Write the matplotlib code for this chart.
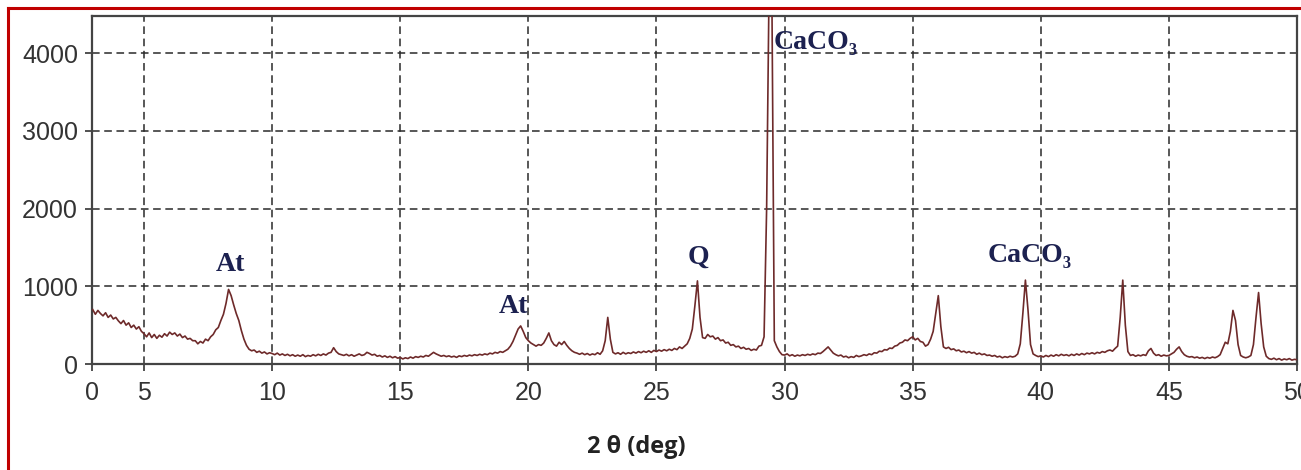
import numpy as np
import matplotlib
matplotlib.use("Agg")
import matplotlib.pyplot as plt
from matplotlib.lines import Line2D

# --------------- data (0.1 deg steps from 3.0 to 50.0) ---------------
scan_start = 3.0
scan_step = 0.1
counts = [
    700, 640, 690, 650, 620, 660, 600, 630, 580, 600,      # 3
    555, 520, 560, 500, 530, 470, 500, 450, 480, 420,      # 4
    390, 350, 400, 340, 380, 330, 370, 345, 390, 360,      # 5
    410, 380, 400, 360, 385, 340, 360, 320, 330, 300,      # 6
    300, 260, 290, 270, 320, 300, 350, 380, 440, 470,      # 7
    560, 640, 780, 960, 880, 760, 650, 560, 430, 320,      # 8
    240, 190, 170, 180, 150, 165, 140, 155, 130, 145,      # 9
    135, 120, 140, 115, 130, 110, 125, 105, 120, 100,      # 10
    115, 100, 120, 95, 110, 100, 120, 105, 125, 110,       # 11
    130, 115, 140, 150, 210, 160, 130, 120, 110, 125,      # 12
    105, 120, 100, 115, 130, 110, 120, 150, 135, 115,      # 13
    125, 100, 110, 90, 105, 85, 100, 80, 95, 75,           # 14
    85, 65, 80, 70, 90, 75, 95, 85, 100, 90,               # 15
    110, 100, 125, 150, 130, 115, 100, 110, 95, 105,       # 16
    90, 100, 85, 105, 95, 110, 100, 115, 105, 120,         # 17
    110, 125, 115, 130, 120, 140, 130, 150, 140, 160,      # 18
    150, 170, 190, 230, 290, 370, 450, 490, 420, 340,      # 19
    300, 270, 250, 230, 250, 240, 270, 330, 400, 300,      # 20
    250, 230, 280, 250, 290, 240, 200, 170, 150, 140,      # 21
    125, 140, 120, 135, 115, 130, 120, 145, 125, 170,      # 22
    300, 600, 320, 150, 130, 145, 125, 150, 130, 145,      # 23
    135, 155, 140, 160, 145, 165, 150, 170, 150, 175,      # 24
    160, 180, 165, 185, 170, 190, 175, 200, 185, 220,      # 25
    200, 230, 260, 330, 450, 750, 1070, 600, 340, 330,     # 26
    380, 350, 360, 320, 340, 300, 310, 270, 280, 240,      # 27
    250, 220, 230, 200, 215, 190, 200, 175, 190, 180,      # 28
    230, 240, 350, 2000, 5000, 5000, 300, 220, 160, 120,   # 29
    115, 130, 105, 120, 100, 115, 105, 120, 110, 125,      # 30
    115, 130, 120, 140, 135, 160, 190, 220, 180, 140,      # 31
    120, 105, 115, 90, 100, 80, 95, 85, 110, 95,           # 32
    105, 120, 110, 130, 120, 145, 140, 165, 160, 185,      # 33
    180, 205, 200, 230, 240, 270, 280, 310, 300, 330,      # 34
    350, 310, 330, 290, 280, 230, 250, 320, 420, 650,      # 35
    880, 480, 220, 200, 215, 185, 195, 170, 180, 155,      # 36
    165, 145, 160, 140, 150, 125, 140, 120, 130, 110,      # 37
    115, 100, 110, 90, 100, 80, 95, 85, 100, 90,           # 38
    100, 130, 260, 650, 1080, 700, 250, 130, 110, 95,      # 39
    105, 90, 110, 95, 115, 100, 120, 105, 125, 110,        # 40
    120, 105, 125, 110, 130, 115, 135, 120, 140, 130,      # 41
    145, 130, 150, 140, 160, 150, 170, 180, 165, 200,      # 42
    230, 600, 1080, 500, 160, 110, 120, 100, 115, 105,     # 43
    120, 110, 170, 200, 140, 110, 120, 100, 115, 105,      # 44
    110, 130, 150, 190, 220, 160, 120, 100, 90, 95,        # 45
    80, 90, 75, 85, 70, 85, 75, 90, 80, 95,                # 46
    120, 200, 280, 260, 420, 690, 560, 250, 110, 90,       # 47
    80, 90, 110, 250, 600, 920, 520, 220, 100, 70,         # 48
    60, 75, 55, 70, 50, 65, 55, 70, 50, 60,                # 49
    55,                                                    # 50
]
two_theta = scan_start + scan_step * np.arange(len(counts))

x_ticks = [2.97, 5, 10, 15, 20, 25, 30, 35, 40, 45, 50]
x_tick_labels = ["0", "5", "10", "15", "20", "25", "30", "35", "40", "45", "50"]
y_ticks = [0, 1000, 2000, 3000, 4000]

# peak labels: text, left/center anchor x, baseline y
peak_labels = ["At", "At", "Q", "CaCO₃", "CaCO₃"]
peak_x = [8.36, 19.4, 26.64, 29.57, 37.93]
peak_y = [1200, 660, 1290, 4050, 1310]
peak_ha = ["center", "center", "center", "left", "left"]

# --------------- plot ---------------
fig = plt.figure(figsize=(13.01, 4.70), dpi=100)
ax = fig.add_axes([92 / 1301, 1 - 364 / 470, (1297 - 92) / 1301, (364 - 16) / 470])

ax.plot(two_theta, counts, color="#6e2a2a", lw=1.2, zorder=3)

ax.set_xlim(2.97, 50.0)
ax.set_ylim(0, 4480)
ax.set_xticks(x_ticks)
ax.set_xticklabels(x_tick_labels)
ax.set_yticks(y_ticks)

ax.grid(True, color="#2a2a2a", lw=1.1, linestyle=(0, (5, 3)))
ax.tick_params(axis="both", direction="out", length=5, width=1.2,
               colors="#333333", labelsize=18)
ax.tick_params(axis="x", pad=7)
ax.tick_params(axis="y", pad=5)
for lab in ax.get_xticklabels() + ax.get_yticklabels():
    lab.set_fontfamily("Liberation Sans")
for sp in ax.spines.values():
    sp.set_color("#444444")
    sp.set_linewidth(1.6)

for txt, px, py, ha in zip(peak_labels, peak_x, peak_y, peak_ha):
    ax.text(px, py, txt, ha=ha, va="baseline", fontsize=20,
            fontweight="bold", color="#1c2150",
            family=["Liberation Serif", "DejaVu Serif"], zorder=4)

fig.text(636 / 1301, 1 - 447 / 470, "2 θ (deg)", ha="center", va="center",
         fontsize=17, fontweight="bold", family="Open Sans", color="#222222")

# red frame round the picture (left and top edges)
red = "#c00000"
fig.add_artist(Line2D([8 / 1301, 8 / 1301], [0, 1 - 8 / 470], color=red, lw=2.2,
                      transform=fig.transFigure))
fig.add_artist(Line2D([8 / 1301, 1], [1 - 8 / 470, 1 - 8 / 470], color=red, lw=2.2,
                      transform=fig.transFigure))

fig.savefig("out.png", dpi=100)
